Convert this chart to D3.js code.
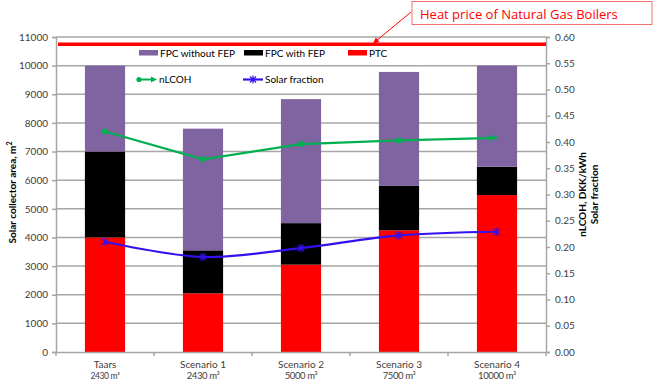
<!DOCTYPE html>
<html>
<head>
<meta charset="utf-8">
<script src="https://cdn.jsdelivr.net/npm/d3@7"></script>
<style>
  html, body { margin: 0; padding: 0; background: #fff; }
  svg { display: block; }
  text { font-family: Lato, "Liberation Sans", sans-serif; }
</style>
</head>
<body>
<svg id="chart" width="655" height="392"></svg>
<script>
// ---------- data ----------
const categories = ["Taars", "Scenario 1", "Scenario 2", "Scenario 3", "Scenario 4"];
const volumes = ["2430", "2430", "5000", "7500", "10000"];
const ptc = [4000, 2050, 3050, 4250, 5480];
const fpcWithFep = [3000, 1500, 1450, 1550, 990];
const fpcWithoutFep = [3000, 4250, 4330, 3980, 3530];
const nLCOH = [0.42, 0.367, 0.396, 0.403, 0.408];
const solarFraction = [0.21, 0.181, 0.198, 0.222, 0.229];
const gasBoilerPrice = 0.586;
const leftTicks = d3.range(0, 11001, 1000);
const rightTicks = d3.range(0, 0.601, 0.05);
const seriesNames = ["PTC", "FPC with FEP", "FPC without FEP"];
const seriesColors = ["#ff0000", "#000000", "#8064a2"];

// ---------- layout ----------
const svg = d3.select("#chart");
const L = 56, R = 546, T = 37, B = 352;
const gridColor = "#a6a6a6";
const tickTextColor = "#404040";

const x = d3.scaleBand().domain(categories).range([L, R]).paddingInner(0.59).paddingOuter(0.295);
const yL = d3.scaleLinear().domain([0, 11000]).range([B, T]);
const yR = d3.scaleLinear().domain([0, 0.6]).range([B, T]);

// gridlines
svg.append("g").selectAll("line").data(leftTicks.filter(d => d > 0)).join("line")
  .attr("x1", L).attr("x2", R)
  .attr("y1", d => yL(d)).attr("y2", d => yL(d))
  .attr("stroke", gridColor).attr("stroke-width", 1.5);

// stacked bars
const stackData = categories.map((c, i) => ({cat: c, PTC: ptc[i], "FPC with FEP": fpcWithFep[i], "FPC without FEP": fpcWithoutFep[i]}));
const stacked = d3.stack().keys(seriesNames)(stackData);
svg.append("g").selectAll("g").data(stacked).join("g")
  .attr("fill", (d, i) => seriesColors[i])
  .selectAll("rect").data(d => d).join("rect")
  .attr("x", d => x(d.data.cat))
  .attr("width", x.bandwidth())
  .attr("y", d => yL(d[1]))
  .attr("height", d => yL(d[0]) - yL(d[1]));

// left axis
const axL = svg.append("g").attr("transform", `translate(${L},0)`)
  .call(d3.axisLeft(yL).tickValues(leftTicks).tickSize(4).tickPadding(4).tickFormat(d3.format("d")));
axL.select(".domain").attr("stroke", gridColor).attr("stroke-width", 1.5);
axL.selectAll(".tick line").attr("stroke", gridColor).attr("stroke-width", 1.5);
axL.selectAll(".tick text").attr("fill", tickTextColor).style("font-size", "10px").style("font-family", "Lato, sans-serif");

// right axis
const axR = svg.append("g").attr("transform", `translate(${R},0)`)
  .call(d3.axisRight(yR).tickValues(rightTicks).tickSize(4).tickPadding(5).tickFormat(d3.format(".2f")));
axR.select(".domain").attr("stroke", gridColor).attr("stroke-width", 1.5);
axR.selectAll(".tick line").attr("stroke", gridColor).attr("stroke-width", 1.5);
axR.selectAll(".tick text").attr("fill", tickTextColor).style("font-size", "10px").style("font-family", "Lato, sans-serif");

// bottom axis
const axB = svg.append("g").attr("transform", `translate(0,${B})`)
  .call(d3.axisBottom(x).tickSize(0).tickFormat(""));
axB.select(".domain").attr("stroke", gridColor).attr("stroke-width", 1.5);
const bounds = [L].concat(categories.map(c => x(c) - x.step() * x.paddingInner() / 2).slice(1)).concat([R]);
svg.append("g").selectAll("line").data(bounds).join("line")
  .attr("x1", d => d).attr("x2", d => d).attr("y1", B).attr("y2", B + 4)
  .attr("stroke", gridColor).attr("stroke-width", 1.5);
const xl = svg.append("g").selectAll("text").data(categories).join("text")
  .attr("x", d => x(d) + x.bandwidth() / 2)
  .attr("y", 368)
  .attr("text-anchor", "middle")
  .attr("fill", tickTextColor)
  .style("font-size", "10px");
xl.append("tspan").text(d => d);
xl.append("tspan").attr("x", d => x(d) + x.bandwidth() / 2).attr("dy", 11)
  .style("font-size", (d, i) => i === 0 ? "8.5px" : "9.5px").style("letter-spacing", "-0.4px")
  .text((d, i) => volumes[i] + " m³");

// heat price line
svg.append("line").attr("x1", L + 2).attr("x2", R)
  .attr("y1", yR(gasBoilerPrice)).attr("y2", yR(gasBoilerPrice))
  .attr("stroke", "#ff0000").attr("stroke-width", 3.5);

// nLCOH line
const cx = d => x(d) + x.bandwidth() / 2;
const green = "#00b050";
const lineG = d3.line().x((d, i) => cx(categories[i])).y(d => yR(d));
svg.append("path").datum(nLCOH).attr("d", lineG)
  .attr("fill", "none").attr("stroke", green).attr("stroke-width", 2.2);
svg.append("g").selectAll("circle").data(nLCOH.slice(0, -1)).join("circle")
  .attr("cx", (d, i) => cx(categories[i])).attr("cy", d => yR(d)).attr("r", 3)
  .attr("fill", green);
// arrow head at last point
{
  const n = nLCOH.length;
  const x1 = cx(categories[n - 2]), y1 = yR(nLCOH[n - 2]);
  const x2 = cx(categories[n - 1]), y2 = yR(nLCOH[n - 1]);
  const a = Math.atan2(y2 - y1, x2 - x1);
  const len = 8, w = 3.5;
  const pts = [[x2, y2],
    [x2 - len * Math.cos(a) + w * Math.sin(a), y2 - len * Math.sin(a) - w * Math.cos(a)],
    [x2 - len * Math.cos(a) - w * Math.sin(a), y2 - len * Math.sin(a) + w * Math.cos(a)]];
  svg.append("polygon").attr("points", pts.map(p => p.join(",")).join(" ")).attr("fill", green);
}

// solar fraction line
const blue = "#3311ee";
const lineB = d3.line().x((d, i) => cx(categories[i])).y(d => yR(d)).curve(d3.curveCatmullRom);
svg.append("path").datum(solarFraction).attr("d", lineB)
  .attr("fill", "none").attr("stroke", blue).attr("stroke-width", 2.2);
function asterisk(g, px, py, s) {
  g.append("path")
    .attr("d", `M${px - s},${py - s}L${px + s},${py + s}M${px - s},${py + s}L${px + s},${py - s}M${px},${py - s - 1}L${px},${py + s + 1}`)
    .attr("stroke", blue).attr("stroke-width", 1.2).attr("fill", "none");
}
const mg = svg.append("g");
solarFraction.forEach((d, i) => asterisk(mg, cx(categories[i]), yR(d), 3.2));

// legend
const leg = svg.append("g").style("font-size", "10px").attr("fill", "#000");
const legItems = [
  {name: "FPC without FEP", color: "#8064a2", x: 139},
  {name: "FPC with FEP", color: "#000000", x: 244},
  {name: "PTC", color: "#ff0000", x: 348}
];
legItems.forEach(it => {
  leg.append("rect").attr("x", it.x).attr("y", 50).attr("width", 19).attr("height", 5.5).attr("fill", it.color);
  leg.append("text").attr("x", it.x + 21).attr("y", 56.5).text(it.name);
});
// nLCOH legend
leg.append("line").attr("x1", 138).attr("x2", 152).attr("y1", 79.5).attr("y2", 79.5).attr("stroke", green).attr("stroke-width", 2);
leg.append("circle").attr("cx", 139).attr("cy", 79.5).attr("r", 2.6).attr("fill", green);
leg.append("polygon").attr("points", "157,79.5 151,76.5 151,82.5").attr("fill", green);
leg.append("text").attr("x", 159).attr("y", 83).text("nLCOH");
// solar fraction legend
leg.append("line").attr("x1", 243).attr("x2", 263).attr("y1", 79.5).attr("y2", 79.5).attr("stroke", blue).attr("stroke-width", 2.2);
asterisk(leg, 253, 79.5, 3);
leg.append("text").attr("x", 265).attr("y", 83).text("Solar fraction");

// axis titles
svg.append("text")
  .attr("transform", `translate(16,${(T + B) / 2 - 2}) rotate(-90)`)
  .attr("text-anchor", "middle").style("font-size", "10px").style("font-weight", "bold")
  .attr("fill", "#000")
  .html("Solar collector area, m<tspan dy='-4' style='font-size:7px'>2</tspan>");
const rt = svg.append("text")
  .attr("transform", `translate(586,${(T + B) / 2}) rotate(-90)`)
  .attr("text-anchor", "middle").style("font-size", "10px").style("font-weight", "bold")
  .attr("fill", "#000");
rt.append("tspan").attr("x", 0).attr("dy", 0).text("nLCOH, DKK/kWh");
rt.append("tspan").attr("x", 0).attr("dy", 12).text("Solar fraction");

// annotation
svg.append("rect").attr("x", 412).attr("y", 1.5).attr("width", 240).attr("height", 23)
  .attr("fill", "#fff").attr("stroke", "#f07070").attr("stroke-width", 1);
svg.append("text").attr("x", 420).attr("y", 18.5)
  .style("font-family", "'Open Sans', sans-serif").style("font-size", "13px")
  .attr("fill", "#ff0000").text("Heat price of Natural Gas Boilers");
{
  const sx = 411, sy = 12, tx = 373, ty = 43.5;
  const a = Math.atan2(ty - sy, tx - sx);
  svg.append("line").attr("x1", sx).attr("y1", sy).attr("x2", tx - 5 * Math.cos(a)).attr("y2", ty - 5 * Math.sin(a))
    .attr("stroke", "#ff0000").attr("stroke-width", 1);
  const len = 6, w = 2.8;
  const pts = [[tx, ty],
    [tx - len * Math.cos(a) + w * Math.sin(a), ty - len * Math.sin(a) - w * Math.cos(a)],
    [tx - len * Math.cos(a) - w * Math.sin(a), ty - len * Math.sin(a) + w * Math.cos(a)]];
  svg.append("polygon").attr("points", pts.map(p => p.join(",")).join(" ")).attr("fill", "#ff0000");
}
</script>
</body>
</html>
